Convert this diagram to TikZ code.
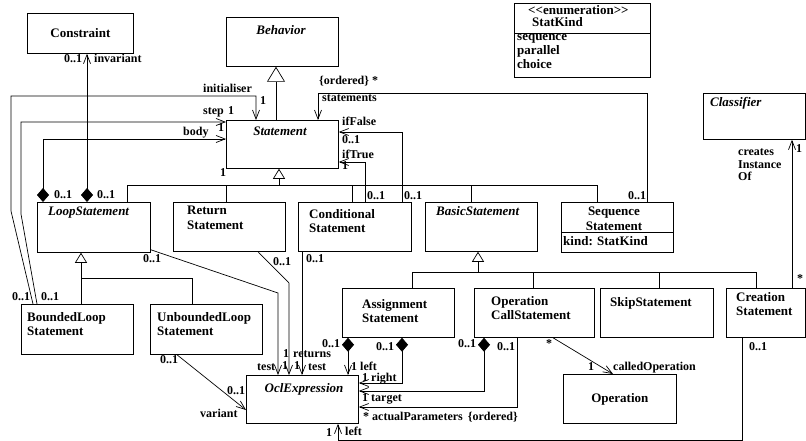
\documentclass[tikz,border=0pt]{standalone}
\usepackage{fontspec}
\setmainfont{Liberation Serif}
\usetikzlibrary{arrows.meta, positioning}
\newcommand{\clsfont}{\fontsize{13}{14.5}\selectfont\bfseries}
\newcommand{\lblfont}{\fontsize{12}{12.5}\selectfont\bfseries}
\tikzset{
	cls/.style={draw, line width=0.75pt, anchor=north west, inner sep=0pt},
	ttl/.style={anchor=north west, align=left, inner sep=0pt, font=\clsfont},
	ttlc/.style={anchor=north, align=center, inner sep=0pt, font=\clsfont},
	attr/.style={anchor=base west, inner sep=0pt, font=\clsfont},
	lbl/.style={anchor=base west, inner sep=0pt, font=\lblfont},
	assoc/.style={line width=0.7pt, -{Straight Barb[length=9pt,width=7pt]}},
	comp/.style={line width=0.7pt, {Diamond[length=14pt,width=12pt]}-{Straight Barb[length=9pt,width=7pt]}},
	inherit/.style={line width=0.7pt, -{Triangle[open,length=10pt,width=12pt]}},
	gen/.style={line width=0.7pt}
}

\begin{document}
\begin{tikzpicture}[x=1pt, y=-1pt]
	\fill[white] (0,0) rectangle (806,441);
	\useasboundingbox (0,0) rectangle (806,441);

	% Nodes
	\node (constr) [cls, minimum width=106pt, minimum height=40pt, font=\clsfont] at (27,13) {Constraint};
	\node (behav) [cls, minimum width=112pt, minimum height=49pt] at (226,17) {};
	\node (behavT) [ttlc] at (281,25) {\itshape Behavior};
	\node (stmt) [cls, minimum width=112pt, minimum height=48pt] at (226,120) {};
	\node (stmtT) [ttlc] at (280,127) {\itshape Statement};
	\node (enum) [cls, minimum width=136pt, minimum height=74pt] at (514,3) {};
	\node (enumT1) [attr] at (528,15) {<{}<enumeration>{}>};
	\node (enumT2) [attr] at (532,27) {StatKind};
	\node (enumA1) [attr] at (517,41) {sequence};
	\node (enumA2) [attr] at (517,55) {parallel};
	\node (enumA3) [attr] at (517,69) {choice};

	\node (loop) [cls, minimum width=113pt, minimum height=50pt] at (37,202) {};
	\node (loopT) [ttl] at (48,207) {\itshape LoopStatement};
	\node (ret) [cls, minimum width=112pt, minimum height=49pt] at (173,202) {};
	\node (retT) [ttl] at (187,206) {Return\\Statement};
	\node (cond) [cls, minimum width=113pt, minimum height=49pt] at (298,202) {};
	\node (condT) [ttl] at (309,209) {Conditional\\Statement};
	\node (basic) [cls, minimum width=112pt, minimum height=49pt] at (425,202) {};
	\node (basicT) [ttl] at (436,206) {\itshape BasicStatement};
	\node (seq) [cls, minimum width=112pt, minimum height=50pt] at (561,202) {};
	\node (seqT) [ttlc] at (614,207) {Sequence\\Statement};
	\node (seqA) [attr] at (563,245) {kind: StatKind};
	\node (classif) [cls, minimum width=102pt, minimum height=46pt] at (703,93) {};
	\node (classifT) [ttl] at (710,97) {\itshape Classifier};

	\node (bloop) [cls, minimum width=112pt, minimum height=50pt] at (21,304) {};
	\node (bloopT) [ttl] at (27,312) {BoundedLoop\\Statement};
	\node (uloop) [cls, minimum width=112pt, minimum height=50pt] at (150,304) {};
	\node (uloopT) [ttl] at (157,312) {UnboundedLoop\\Statement};
	\node (assign) [cls, minimum width=112pt, minimum height=49pt] at (342,288) {};
	\node (assignT) [ttl] at (362,299) {Assignment\\Statement};
	\node (opcall) [cls, minimum width=120pt, minimum height=49pt] at (474,288) {};
	\node (opcallT) [ttl] at (491,296) {Operation\\CallStatement};
	\node (skip) [cls, minimum width=113pt, minimum height=49pt] at (600,288) {};
	\node (skipT) [ttl] at (610,297) {SkipStatement};
	\node (create) [cls, minimum width=79pt, minimum height=49pt] at (726,288) {};
	\node (createT) [ttl] at (736,292) {Creation\\Statement};

	\node (ocl) [cls, minimum width=112pt, minimum height=48pt] at (246,375) {};
	\node (oclT) [ttlc] at (304,383) {\itshape OclExpression};
	\node (oper) [cls, minimum width=113pt, minimum height=49pt, font=\clsfont] at (563,374) {Operation};

	% Compartment lines
	\draw[gen] ([yshift=-30pt]enum.north west) -- ([yshift=-30pt]enum.north east);
	\draw[gen] ([yshift=-30pt]seq.north west) -- ([yshift=-30pt]seq.north east);

	% Generalisations
	\draw[inherit, -{Triangle[open,length=15pt,width=18pt]}] ([xshift=50pt]stmt.north west) -- ([xshift=50pt]behav.south west);
	\draw[gen] ([xshift=90pt]loop.north west) |- (597,185) -- ([xshift=36pt]seq.north west);
	\draw[gen] ([xshift=53pt]ret.north west) -- (226,185);
	\draw[gen] ([xshift=54pt]cond.north west) -- (352,185);
	\draw[gen] ([xshift=46pt]basic.north west) -- (471,185);
	\draw[inherit] (279,185) -- ([xshift=53pt]stmt.south west);
	\draw[inherit] ([xshift=60pt]bloop.north west) -- ([xshift=44pt]loop.south west);
	\draw[gen] ([xshift=42pt]uloop.north west) |- (81,278);
	\draw[gen] ([xshift=70pt]assign.north west) |- (756,272) -- ([xshift=30pt]create.north west);
	\draw[gen] ([xshift=59pt]opcall.north west) -- (533,272);
	\draw[gen] ([xshift=59pt]skip.north west) -- (659,272);
	\draw[inherit] (478,272) -- ([xshift=53pt]basic.south west);

	% Associations
	\draw[assoc] ([xshift=12pt]bloop.north west) -- (11,211) -- (11,96) -| ([xshift=30pt]stmt.north west);
	\draw[assoc] ([xshift=16pt]bloop.north west) -- (21,214) |- ([yshift=-2pt]stmt.north west);
	\draw[comp] ([xshift=6pt]loop.north west) |- ([yshift=-19pt]stmt.north west);
	\draw[comp] ([xshift=50pt]loop.north west) -- ([xshift=60pt]constr.south west);
	\draw[assoc] ([xshift=86pt]seq.north west) -- (647,93) -| ([xshift=92pt]stmt.north west);
	\draw[assoc] ([xshift=104pt]cond.north west) |- ([yshift=-12pt]stmt.north east);
	\draw[assoc] ([xshift=67pt]cond.north west) |- ([yshift=-42pt]stmt.north east);
	\draw[assoc] ([yshift=3pt]loop.south east) -- (278,293) -- ([xshift=32pt]ocl.north west);
	\draw[assoc] ([xshift=85pt]ret.south west) -- (289,283) -- ([xshift=43pt]ocl.north west);
	\draw[assoc] ([xshift=4pt]cond.south west) -- ([xshift=56pt]ocl.north west);
	\draw[assoc] ([xshift=27pt]uloop.south west) -- ([yshift=-35pt]ocl.north west);
	\draw[comp] ([xshift=6pt]assign.south west) -- ([xshift=102pt]ocl.north west);
	\draw[comp] ([xshift=60pt]assign.south west) |- ([yshift=-8pt]ocl.north east);
	\draw[comp] ([xshift=10pt]opcall.south west) |- ([yshift=-16pt]ocl.north east);
	\draw[assoc] ([xshift=43pt]opcall.south west) |- ([yshift=-32pt]ocl.north east);
	\draw[assoc] ([xshift=16pt]create.south west) |- (338,440) -- ([xshift=92pt]ocl.south west);
	\draw[assoc] ([xshift=79pt]opcall.south west) -- ([xshift=50pt]oper.north west);
	\draw[assoc] ([xshift=66pt]create.north west) -- ([xshift=89pt]classif.south west);

	% Labels
	\node (m1) [lbl] at (64,63) {0..1};
	\node (r1) [lbl] at (94,63) {invariant};
	\node (r2) [lbl] at (203,93) {initialiser};
	\node (m2) [lbl] at (260,105) {1};
	\node (r3) [lbl] at (203,115) {step};
	\node (m3) [lbl] at (228,115) {1};
	\node (m4) [lbl] at (218,132) {1};
	\node (r4) [lbl] at (183,136) {body};
	\node (m5) [lbl] at (220,176) {1};
	\node (r5) [lbl] at (319,85) {\{ordered\} *};
	\node (r6) [lbl] at (322,102) {statements};
	\node (r7) [lbl] at (342,126) {ifFalse};
	\node (m6) [lbl] at (342,143) {0..1};
	\node (r8) [lbl] at (342,159) {ifTrue};
	\node (m7) [lbl] at (342,170) {1};
	\node (m8) [lbl] at (367,199) {0..1};
	\node (m9) [lbl] at (404,199) {0..1};
	\node (m10) [lbl] at (628,199) {0..1};
	\node (m11) [lbl] at (54,198) {0..1};
	\node (m12) [lbl] at (97,198) {0..1};
	\node (m13) [lbl] at (12,300) {0..1};
	\node (m14) [lbl] at (41,300) {0..1};
	\node (m15) [lbl] at (143,262) {0..1};
	\node (m16) [lbl] at (273,265) {0..1};
	\node (m17) [lbl] at (306,262) {0..1};
	\node (m18) [lbl] at (283,357) {1};
	\node (r9) [lbl] at (293,357) {returns};
	\node (r10) [lbl] at (257,370) {test};
	\node (m19) [lbl] at (282,369) {1};
	\node (m20) [lbl] at (294,369) {1};
	\node (r11) [lbl] at (308,370) {test};
	\node (m21) [lbl] at (160,363) {0..1};
	\node (m22) [lbl] at (227,394) {0..1};
	\node (r12) [lbl] at (200,417) {variant};
	\node (m23) [lbl] at (322,347) {0..1};
	\node (r13) [lbl] at (351,370) {1 left};
	\node (m24) [lbl] at (376,350) {0..1};
	\node (r14) [lbl] at (362,381) {1 right};
	\node (m25) [lbl] at (458,347) {0..1};
	\node (m26) [lbl] at (497,350) {0..1};
	\node (r15) [lbl] at (362,401) {1 target};
	\node (r16) [lbl] at (363,420) {* actualParameters\hspace{5pt}\{ordered\}};
	\node (m27) [lbl] at (326,436) {1};
	\node (r17) [lbl] at (345,435) {left};
	\node (m28) [lbl] at (749,350) {0..1};
	\node (m29) [lbl, anchor=center] at (549,344) {*};
	\node (m30) [lbl] at (588,370) {1};
	\node (r18) [lbl] at (613,370) {calledOperation};
	\node (m31) [lbl, anchor=center] at (800,279) {*};
	\node (m32) [lbl] at (796,153) {1};
	\node (r19) [lbl, anchor=north west, align=left] at (738,149) {creates\\Instance\\Of};
\end{tikzpicture}
\end{document}
